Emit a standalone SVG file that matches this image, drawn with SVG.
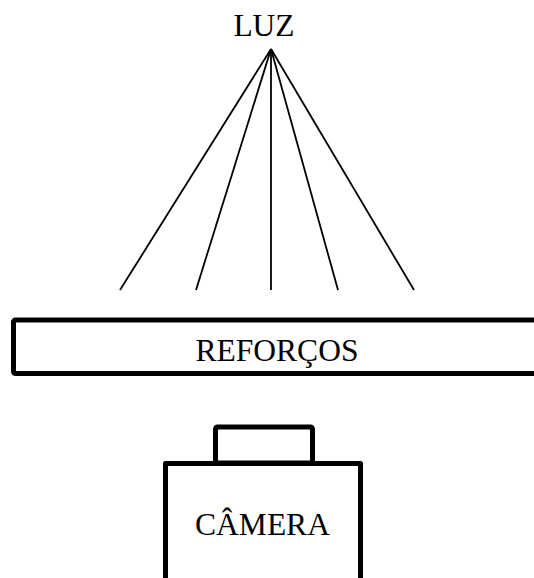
<svg xmlns="http://www.w3.org/2000/svg" width="534" height="578" viewBox="0 0 534 578">
  <style>
    .lbl { font-family: "Liberation Serif", "Times New Roman", serif; font-size: 31.5px; fill: #000; text-anchor: middle; }
    .ray { stroke: #000; stroke-width: 1.8; fill: none; }
    .box { stroke: #000; stroke-width: 5; fill: #fff; stroke-linejoin: round; }
  </style>
  <rect width="534" height="578" fill="#fff"/>

  <g id="rays">
    <line class="ray" x1="271" y1="49" x2="120" y2="290"/>
    <line class="ray" x1="271" y1="49" x2="196" y2="290"/>
    <line class="ray" x1="271" y1="49" x2="271" y2="290"/>
    <line class="ray" x1="271" y1="49" x2="338" y2="290"/>
    <line class="ray" x1="271" y1="49" x2="414" y2="290"/>
  </g>

  <g id="luz">
    <text class="lbl" x="264" y="36">LUZ</text>
  </g>

  <g id="reforcos">
    <rect class="box" x="13.5" y="320" width="530" height="53.5" rx="2"/>
    <text class="lbl" x="277" y="361">REFORÇOS</text>
  </g>

  <g id="camera">
    <rect class="box" x="215.5" y="427" width="97" height="36" rx="2"/>
    <path class="box" d="M165.5 590 V463.5 H360.5 V590" fill="none"/>
    <text class="lbl" x="262.5" y="535">CÂMERA</text>
  </g>
</svg>
